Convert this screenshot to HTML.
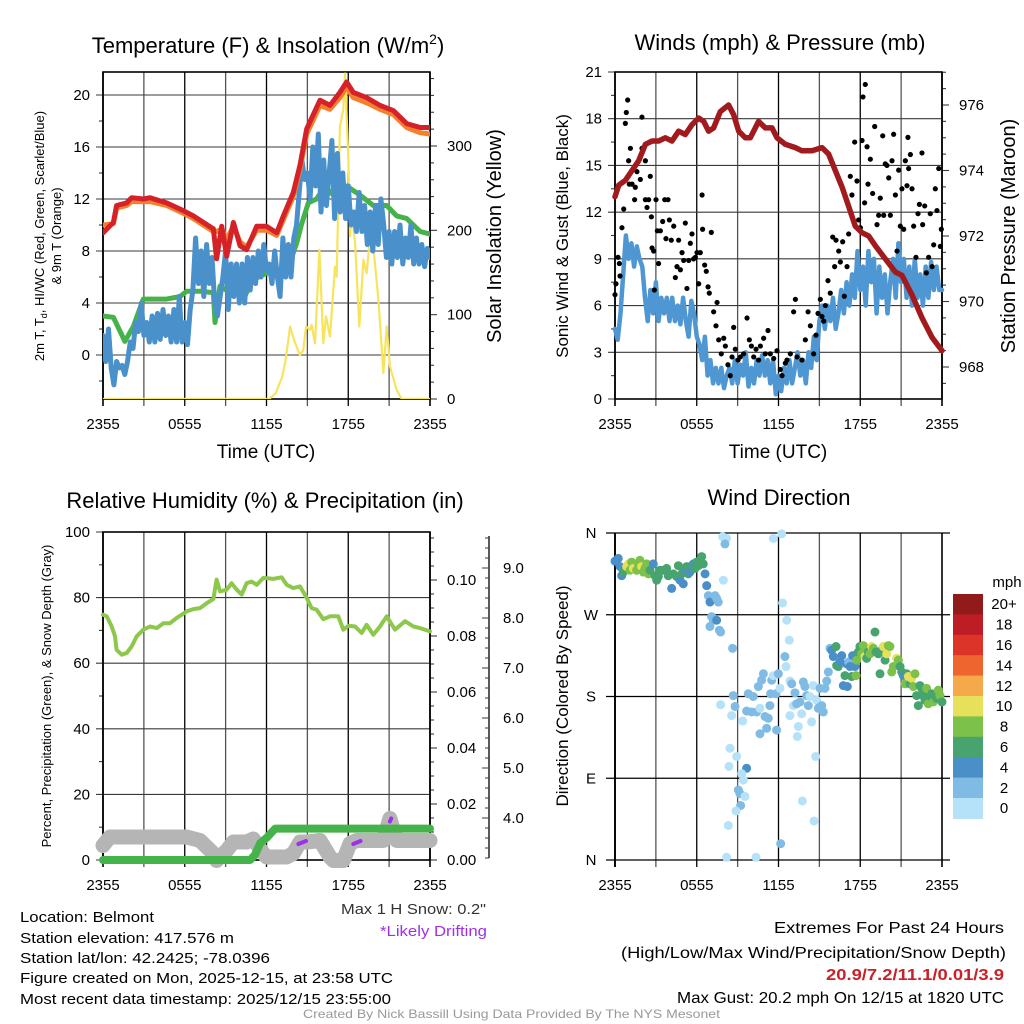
<!DOCTYPE html>
<html><head><meta charset="utf-8">
<style>
html,body{margin:0;padding:0;background:#fff;}
svg{display:block;font-family:"Liberation Sans",Arial,sans-serif;}
</style></head>
<body>
<svg id="chart" xmlns="http://www.w3.org/2000/svg" width="1024" height="1024" viewBox="0 0 1024 1024">
<rect width="1024" height="1024" fill="#fff"/>
<g id="layer"></g>
<!-- titles -->
<text x="268" y="53" font-size="22" text-anchor="middle">Temperature (F) &amp; Insolation (W/m<tspan font-size="14" dy="-9">2</tspan><tspan dy="9">)</tspan></text>
<text x="780" y="50" font-size="22" text-anchor="middle">Winds (mph) &amp; Pressure (mb)</text>
<text x="265" y="508" font-size="22" text-anchor="middle">Relative Humidity (%) &amp; Precipitation (in)</text>
<text x="779" y="505" font-size="22" text-anchor="middle">Wind Direction</text>
<!-- axis titles -->
<text x="266" y="458" font-size="19" text-anchor="middle">Time (UTC)</text>
<text x="778" y="458" font-size="19" text-anchor="middle">Time (UTC)</text>
<text transform="translate(44,236) rotate(-90)" font-size="13" text-anchor="middle">2m T, T<tspan font-size="9" dy="3">d</tspan><tspan dy="-3">, HI/WC (Red, Green, Scarlet/Blue)</tspan></text>
<text transform="translate(61,236) rotate(-90)" font-size="13" text-anchor="middle">&amp; 9m T (Orange)</text>
<text transform="translate(501,236) rotate(-90)" font-size="20" text-anchor="middle">Solar Insolation (Yellow)</text>
<text transform="translate(568,236) rotate(-90)" font-size="17" text-anchor="middle">Sonic Wind &amp; Gust (Blue, Black)</text>
<text transform="translate(1015,236) rotate(-90)" font-size="20" text-anchor="middle">Station Pressure (Maroon)</text>
<text transform="translate(51,696) rotate(-90)" font-size="13" text-anchor="middle">Percent, Precipitation (Green), &amp; Snow Depth (Gray)</text>
<text transform="translate(568,696) rotate(-90)" font-size="17" text-anchor="middle">Direction (Colored By Speed)</text>
<!-- footer texts -->
<g font-size="15">
<text x="20" y="922" textLength="134" lengthAdjust="spacingAndGlyphs">Location: Belmont</text>
<text x="20" y="943" textLength="214" lengthAdjust="spacingAndGlyphs">Station elevation: 417.576 m</text>
<text x="20" y="963" textLength="250" lengthAdjust="spacingAndGlyphs">Station lat/lon: 42.2425; -78.0396</text>
<text x="20" y="983" textLength="373" lengthAdjust="spacingAndGlyphs">Figure created on Mon, 2025-12-15, at 23:58 UTC</text>
<text x="20" y="1004" textLength="371" lengthAdjust="spacingAndGlyphs">Most recent data timestamp: 2025/12/15 23:55:00</text>
</g>
<text x="341" y="914" font-size="15" fill="#333" textLength="145" lengthAdjust="spacingAndGlyphs">Max 1 H Snow: 0.2"</text>
<text x="380" y="936" font-size="15" fill="#a030e8" textLength="107" lengthAdjust="spacingAndGlyphs">*Likely Drifting</text>
<g font-size="16">
<text x="774" y="933" textLength="230" lengthAdjust="spacingAndGlyphs">Extremes For Past 24 Hours</text>
<text x="621" y="958" textLength="385" lengthAdjust="spacingAndGlyphs">(High/Low/Max Wind/Precipitation/Snow Depth)</text>
<text x="826" y="980" fill="#cc2028" font-weight="bold" textLength="178" lengthAdjust="spacingAndGlyphs">20.9/7.2/11.1/0.01/3.9</text>
<text x="677" y="1003" textLength="327" lengthAdjust="spacingAndGlyphs">Max Gust: 20.2 mph On 12/15 at 1820 UTC</text>
</g>
<text x="303" y="1018" font-size="12" fill="#999" textLength="417" lengthAdjust="spacingAndGlyphs">Created By Nick Bassill Using Data Provided By The NYS Mesonet</text>
</svg>
<script>
// ---------- DATA ----------
const xTickLabels = ["2355","0555","1155","1755","2355"];
// Panel 1: temperature
const tempHours = [0,0.76,1.0,1.74,2.1,2.96,3.45,4.67,5.9,6.63,7.36,8.1,8.34,8.71,9.08,9.57,10.06,10.54,11.28,12.01,12.75,13.24,13.97,14.46,14.95,15.93,16.66,17.39,17.88,18.37,19.35,20.33,21.31,22.29,23.27,24];
const tempRed = [9.4,10.2,11.5,11.7,12.1,12.0,12.1,11.7,11.1,10.7,10.2,9.7,7.4,9.9,7.6,10.2,8.4,8.1,9.9,9.9,9.4,10.7,12.5,14.6,17.4,19.6,19.2,20.2,21.0,20.2,19.8,19.2,18.8,17.8,17.5,17.5];
const temp9m = [10.0,10.1,11.3,11.5,11.8,11.8,11.8,11.5,10.9,10.5,10.0,9.5,9.5,9.7,8.9,9.9,8.7,8.3,9.6,9.6,9.2,10.4,12.2,14.3,17.0,19.2,18.9,19.8,20.6,19.8,19.4,18.9,18.5,17.5,17.1,17.0];
const dewHours = [0,0.76,1.61,2.23,2.96,3.94,4.67,5.65,6.14,7.12,8.1,8.22,8.59,9.32,9.57,10.3,11.03,12.01,13.0,13.72,14.21,14.58,15.07,15.68,16.29,16.9,17.88,18.86,19.84,20.82,21.55,22.29,23.27,24];
const dewGreen = [3.0,2.9,1.05,2.2,4.3,4.3,4.3,4.5,4.9,4.9,4.8,2.5,5.3,4.8,5.3,4.3,5.8,6.3,6.2,7.1,8.6,10.1,11.7,12.0,13.0,12.3,13.0,12.3,11.5,11.5,10.7,10.5,9.5,9.3];
const windChill = [1.5,-0.5,2.0,-1.0,-2.3,-0.5,-1.0,-0.8,-1.5,-0.5,1.0,0.5,2.5,1.8,4.0,1.5,2.5,1.0,3.0,1.0,3.2,1.2,3.5,1.5,3.0,1.0,3.5,1.0,4.5,1.0,2.5,0.8,3.5,5.0,9.0,5.5,8.0,4.5,8.5,5.5,7.5,4.0,3.0,4.5,6.0,8.0,3.5,7.0,4.5,7.0,4.0,7.0,4.0,7.5,5.0,7.5,5.5,8.0,6.0,8.5,6.5,7.0,5.5,8.0,6.0,4.5,9.0,6.0,8.5,6.0,9.0,10.0,12.5,15.0,13.5,14.0,12.0,16.0,13.0,17.0,11.0,15.0,11.5,14.0,16.5,10.5,15.5,11.0,14.0,10.5,13.0,10.0,11.0,9.5,12.5,9.5,11.5,8.5,11.0,8.0,11.5,8.5,12.0,10.0,7.5,9.5,7.0,9.5,7.5,10.0,7.0,9.0,7.5,10.0,7.0,9.0,7.0,8.5,6.8,8.2,7.5];
const solarHours = [0,12.2,12.68,13.17,13.41,13.73,14.02,14.46,14.7,14.9,15.19,15.31,15.56,15.88,16.17,16.37,16.66,17.03,17.15,17.39,17.64,17.76,18.01,18.13,18.25,18.5,18.81,19.11,19.35,19.6,19.84,20.21,20.58,20.82,21.06,21.55,21.92,24];
const solarVals = [0,0,7,27,47,86,70,52,58,86,82,88,66,177,66,98,74,157,145,323,343,386,283,193,220,185,86,165,149,193,181,118,31,86,39,11,0,0];
// Panel 2: winds
const sonicWind = [4.5,3.8,5.5,8.0,10.5,9.0,10.0,8.5,9.8,9.0,8.5,6.5,5.0,7.0,5.5,7.5,5.0,6.5,5.5,6.5,5.0,6.5,5.0,6.0,4.8,6.5,5.0,4.0,6.3,5.5,4.0,3.5,2.5,4.0,1.5,2.5,1.0,2.0,1.0,2.0,0.7,1.5,2.0,1.0,2.5,1.0,2.2,1.5,3.0,0.8,2.0,1.0,2.5,1.5,2.8,1.5,2.5,1.0,2.5,0.3,1.5,0.5,2.0,1.0,2.5,1.0,2.0,3.0,1.5,2.5,1.0,3.0,2.0,4.0,2.5,5.0,6.0,4.5,6.0,5.0,6.5,4.5,5.5,7.0,5.5,7.5,6.0,8.0,6.5,9.5,7.0,8.5,6.0,9.5,7.5,9.0,5.5,8.5,6.5,8.0,5.5,7.5,9.0,6.5,10.0,7.5,9.0,6.5,8.5,6.0,9.0,6.5,8.0,6.0,8.5,6.5,8.8,7.0,8.5,7.0,7.0];
const gustHours = [0,0.07,0.22,0.32,0.37,0.51,0.64,0.76,0.83,0.93,1.0,1.13,1.05,1.25,1.44,1.49,1.61,1.86,1.98,1.98,2.23,2.23,2.35,2.47,2.59,2.67,2.72,2.84,2.89,3.01,3.11,3.2,3.33,3.5,3.65,3.74,3.89,3.99,4.13,4.31,4.43,4.55,4.67,4.8,4.92,5.04,5.16,5.28,5.41,5.53,5.65,5.77,5.9,6.02,6.14,6.26,6.39,6.43,6.58,6.7,6.83,6.92,7.07,7.24,7.41,7.49,7.61,7.8,7.98,8.1,8.29,8.46,8.59,8.71,8.83,9.03,9.2,9.44,9.69,9.86,10.01,10.18,10.35,10.54,10.67,10.91,11.03,11.23,11.4,11.65,11.89,12.13,12.26,12.5,12.62,12.87,13.11,13.24,13.36,13.72,13.97,14.17,14.34,14.58,14.75,14.9,15.07,15.19,15.32,15.44,15.63,15.8,15.98,16.12,16.22,16.42,16.54,16.71,16.83,17.03,17.15,17.27,17.39,17.59,17.76,17.88,18.01,18.13,18.2,18.37,18.32,18.5,18.57,18.74,18.91,19.06,19.23,19.35,19.47,19.65,19.72,19.84,19.96,20.09,20.21,20.33,20.45,20.58,20.7,20.82,20.94,21.06,21.19,21.31,21.43,21.5,21.55,21.68,21.8,21.92,22.09,22.24,22.34,22.53,22.58,22.73,22.85,23.02,23.14,23.27,23.39,23.51,23.63,23.76,23.88,23.95];
const gustMph = [6.7,7.4,9.1,8.7,7.9,11,12.2,17.7,18.4,19.2,15.3,16.1,13.8,13.8,12.8,13.6,14.6,14.1,18.1,16.1,15.3,12.8,12.3,12.8,14.3,11.7,9.7,9.5,7,12.8,10.8,8.7,10.8,11.4,12.8,10.3,12.8,11.5,10.2,11.1,7.8,8.5,10.2,8.3,9.4,8.9,11.3,7.1,8.9,10,10.6,9,9.1,9.4,7.4,9.4,13.1,10.9,8.6,8.2,7.2,6.8,10.7,5.6,4.7,6.2,3.8,2.9,3.9,3.4,2.2,1.5,2.7,4.6,3.2,2.5,2.7,2.9,5.2,3.8,3.4,2.7,3.2,2.5,3.4,3.9,2.9,4.4,2.9,2.6,3.1,1.9,1.5,2.3,2.5,2.9,5.6,6.4,2.7,2.5,3.8,5.6,4.7,2.9,4.1,5.5,6.4,5.3,5,6,7.6,6.8,10.4,8.5,10.2,9.5,8.8,10.1,6.6,8.5,10.6,14.3,13.1,16.5,14,11.5,11,16.6,19.4,20.2,12.6,16.2,13.8,15.4,13.2,17.5,11.2,11.8,12.9,16.9,11.8,15.1,15,14.2,11.8,15.3,17,13.1,9.5,14.7,11.1,13.5,10.9,15.3,13.7,16.8,14.8,15.7,13.5,11.1,9.1,11.9,12.5,15.8,11.2,12.4,8.1,9.1,11.9,8.5,9.9,13.5,12.1,14.8,9.8,10.9];
const presHours = [0,0.27,0.76,1.25,1.74,2.23,2.72,3.2,3.69,4.18,4.67,5.16,5.65,6.14,6.51,6.87,7.24,7.73,8.34,8.71,9.08,9.57,9.93,10.3,10.54,11.03,11.52,11.89,12.5,13.24,13.72,14.46,15.19,15.68,16.17,16.66,17.15,17.64,18.13,18.62,19.11,19.84,20.58,21.06,21.8,22.53,23.27,24];
const presMb = [973.2,973.55,973.7,974.0,974.3,974.8,974.9,974.9,975.0,974.9,975.2,975.1,975.4,975.6,975.5,975.2,975.3,975.8,976.0,975.7,975.2,975.0,975.0,975.3,975.5,975.3,975.3,975.0,974.8,974.7,974.6,974.6,974.7,974.5,974.0,973.5,972.9,972.3,972.1,972.0,971.7,971.3,970.9,970.8,970.2,969.5,968.9,968.5];
// Panel 3: humidity / precip / snow
const rhHours = [0,0.27,0.64,0.88,1.0,1.37,1.74,2.1,2.47,2.96,3.45,3.94,4.43,4.92,5.41,6.14,6.63,7.12,7.61,8.1,8.34,8.59,9.08,9.44,9.81,10.18,10.54,10.91,11.28,11.77,12.5,13.11,13.48,13.97,14.46,14.95,15.31,15.68,16.17,16.66,17.27,17.64,18.01,18.5,18.99,19.35,19.84,20.33,20.82,21.43,22.17,22.78,23.27,24];
const rhVals = [74.8,74.3,71.2,68.2,64.1,62.6,63.1,65.1,68.2,70.2,71.2,70.7,72.2,72.2,73.8,75.8,76.5,76.8,78.3,79.6,85.5,81.9,82.4,84.4,82.4,80.9,84.4,84.9,83.9,86.0,85.7,86.2,83.9,82.9,83.4,79.9,76.8,76.3,73.4,74.3,74.3,70.2,71.4,71.2,69.2,71.7,68.7,71.2,74.3,70.2,72.8,71.2,70.7,69.7];
const precipHours = [0,10.8,11.17,11.54,12.03,12.64,24];
const precipVals = [0,0,0.002,0.006,0.008,0.0112,0.0112];
const snowHours = [0,0.51,6.14,7.12,8.1,8.34,9.08,9.57,10.54,11.03,11.77,12.01,13.48,13.97,14.46,14.95,15.93,16.66,16.9,17.64,18.13,18.62,20.58,21.06,21.55,24];
const snowDepth = [3.45,3.62,3.62,3.55,3.29,3.15,3.35,3.52,3.52,3.58,3.29,3.22,3.22,3.29,3.52,3.52,3.55,3.22,3.15,3.15,3.49,3.55,3.55,3.99,3.55,3.55];
const driftStart = [14.34,18.37,21.06];
const driftEnd = [14.9,18.9,21.15];
const driftDepth = [3.5,3.5,3.95];
// Panel 4: wind direction
const dirHours = [0,0.24,0.37,0.49,0.61,0.86,0.98,1.1,1.22,1.35,1.59,1.71,1.83,1.96,2.08,2.2,2.32,2.45,2.57,2.81,2.94,3.06,3.18,3.3,3.55,3.79,3.91,4.16,4.28,4.53,4.65,4.77,4.89,5.01,5.14,5.26,5.38,5.5,5.63,5.75,5.87,5.99,6.12,6.24,6.36,6.48,6.61,6.73,6.85,6.97,7.09,7.22,7.34,7.46,7.58,7.46,6.97,7.66,7.75,7.95,7.9,8.19,8.07,8.63,8.68,8.81,8.56,7.75,8.44,8.93,8.37,9.66,9.3,9.42,9.05,9.17,9.54,9.22,8.88,8.32,8.19,10.35,9.37,9.66,9.78,10.03,10.15,10.4,10.52,10.64,10.76,10.89,10.64,11.13,11.01,11.25,11.37,11.5,11.42,11.62,11.81,11.86,11.99,12.11,12.16,11.62,12.23,12.3,12.6,12.79,12.47,12.55,12.84,12.97,13.09,12.84,13.21,13.33,13.46,13.38,13.58,13.7,13.82,13.94,14.07,14.19,14.31,14.43,14.56,14.73,13.75,14.61,14.8,14.92,15.05,15.17,15.29,15.41,15.54,15.66,15.78,15.9,16.02,16.22,16.27,16.39,16.51,16.64,16.76,16.88,17.0,17.05,17.15,17.25,17.37,17.44,17.54,17.61,17.69,17.74,17.86,17.98,18.1,18.23,18.35,18.47,18.59,18.72,18.84,18.96,19.08,19.16,19.33,19.45,19.57,19.69,19.82,19.94,20.06,20.18,20.31,20.43,20.67,20.8,20.92,21.04,21.16,21.28,21.41,21.65,21.53,21.77,21.9,22.02,22.14,22.26,22.38,22.51,22.63,22.75,22.87,22.99,23.12,23.24,23.36,23.48,23.61,23.73,23.85,24.0];
const dirDeg = [329,332,323,313,317,323,326,319,328,321,319,326,330,323,317,321,326,315,319,326,313,308,312,319,319,321,313,299,315,312,324,308,315,304,319,323,315,317,324,326,321,328,324,330,334,326,315,302,291,284,268,264,291,288,284,264,257,253,251,308,356,354,348,233,181,169,159,171,123,114,103,101,95,88,77,73,70,60,54,38,3,3,153,164,183,163,180,163,191,167,198,205,139,145,158,156,170,198,183,203,183,143,205,189,18,354,359,283,264,242,224,213,197,194,170,159,184,172,147,136,174,161,196,191,181,170,180,152,192,114,65,43,176,167,189,170,163,189,197,207,233,231,224,235,214,213,218,225,192,203,216,191,218,213,202,225,225,213,203,220,229,235,227,236,224,222,229,227,235,233,251,229,227,205,231,235,220,227,236,235,207,213,222,220,213,207,203,194,205,194,202,200,191,205,181,170,192,189,181,176,189,172,180,183,174,181,178,187,181,174];
const dirSpeed = [4,4,4,5,7,10,10,9,8,10,8,9,8,10,8,8,8,8,7,4,6,6,7,6,6,6,6,4,6,6,6,4,6,4,4,6,6,5,6,4,6,6,6,6,7,6,4,4,3,4,3,3,2,3,3,4,3,3,2,1,1,1,3,2,3,2,1,1,1,1,1,4,1,1,3,3,1,3,1,1,0,1,1,3,3,3,3,2,3,1,3,3,3,3,3,3,3,3,3,1,3,2,2,1,2,1,1,1,1,1,3,1,1,3,1,1,3,2,1,1,3,1,3,2,3,3,1,1,1,1,1,1,1,3,2,3,3,3,3,3,3,4,4,6,6,6,4,4,4,6,4,4,3,4,6,5,4,4,8,8,6,6,8,8,10,6,6,8,10,8,6,6,6,6,6,10,6,10,8,8,8,8,10,8,6,6,4,8,6,6,10,10,8,8,6,6,6,6,6,6,8,8,6,6,8,6,6,8,8,6,6,6];
const speedBinLabels = ["0","2","4","6","8","10","12","14","16","18","20+"];

// ---------- DRAWING ----------
const NS = "http://www.w3.org/2000/svg";
const layer = document.getElementById('layer');
function mk(tag, attrs, parent){
  const e = document.createElementNS(NS, tag);
  for (const k in attrs) e.setAttribute(k, attrs[k]);
  (parent||layer).appendChild(e);
  return e;
}
const GRID = "#3a3a3a";
function xScale(p){ return h => p.x0 + h*(p.x1-p.x0)/24; }
function linScale(v0,y0,v1,y1){ return v => y0 + (v-v0)*(y1-y0)/(v1-v0); }

function frame(p, name){
  const g = mk('g', {});
  
  
  const xs = xScale(p);
  for (let h=0; h<=24; h+=3){
    const x = xs(h);
    const l = mk('line', {x1:x, x2:x, y1:p.y0, y2:p.y1+7, stroke:(h%6==0?"#000":"#555"), 'stroke-width':(h==0||h==24)?1.6:1.3}, g);
    
    
  }
  for (let i=0;i<xTickLabels.length;i++){
    const t = mk('text', {x:xs(i*6), y:p.y1+30, 'font-size':15, 'text-anchor':'middle'}, g);
    t.textContent = xTickLabels[i];
    
    
  }
  return g;
}
function leftAxis(p, g, name, sc, vmin, vmax, major, minor, labels, gridOn){
  for (let v=vmin; v<=vmax+1e-9; v+=minor){
    const y = sc(v);
    if (y < p.y0-0.5 || y > p.y1+0.5) continue;
    const isMajor = Math.abs(v/major - Math.round(v/major))<1e-6;
    const l = mk('line', {x1:p.x0-(isMajor?7:4), x2: (isMajor&&gridOn)?p.x1:p.x0, y1:y, y2:y, stroke:GRID, 'stroke-width':1.1}, g);
    
    
  }
  labels.forEach(([v,txt])=>{
    const t = mk('text', {x:p.x0-13, y:sc(v)+5, 'font-size':15, 'text-anchor':'end'}, g);
    t.textContent = txt;
    
    
  });
}
function rightAxis(p, g, name, sc, vmin, vmax, major, minor, labels, ax, lx){
  ax = ax||p.x1;
  for (let v=vmin; v<=vmax+1e-9; v+=minor){
    const y = sc(v);
    if (y < p.y0-0.5 || y > p.y1+0.5) continue;
    const isMajor = Math.abs(v/major - Math.round(v/major))<1e-6;
    const l = mk('line', {x1:ax, x2:ax+(isMajor?7:4), y1:y, y2:y, stroke:GRID, 'stroke-width':1.1}, g);
    
    
  }
  labels.forEach(([v,txt])=>{
    const t = mk('text', {x:(lx||ax+17), y:sc(v)+5, 'font-size':15, 'text-anchor':'start'}, g);
    t.textContent = txt;
    
    
  });
}
function border(p, g, name){
  const r = mk('rect', {x:p.x0, y:p.y0, width:p.x1-p.x0, height:p.y1-p.y0, fill:'none', stroke:'#000', 'stroke-width':1.6}, g);
  
  
}
function path(xs, ys, hours, vals, color, w, name, parent){
  let d = "";
  for (let i=0;i<vals.length;i++) d += (i?"L":"M") + xs(hours[i]).toFixed(1) + "," + ys(vals[i]).toFixed(1);
  const e = mk('path', {d:d, fill:'none', stroke:color, 'stroke-width':w, 'stroke-linejoin':'round', 'stroke-linecap':'round'}, parent);
  
  
  return e;
}
function evenHours(n){ const a=[]; for(let i=0;i<n;i++) a.push(i*24/(n-1)); return a; }

// Panel 1
const P1 = {x0:103,x1:430,y0:72,y1:399};
{
  const g = frame(P1,'temp');
  const xs = xScale(P1);
  const ty = linScale(0,355,20,95);
  const sy = linScale(0,399,300,146);
  leftAxis(P1, g, 'temp', ty, -2, 22, 4, 2, [[0,"0"],[4,"4"],[8,"8"],[12,"12"],[16,"16"],[20,"20"]], true);
  rightAxis(P1, g, 'solar', sy, 0, 380, 100, 20, [[0,"0"],[100,"100"],[200,"200"],[300,"300"]]);
  const clip = mk('clipPath', {id:'c1'}); mk('rect',{x:P1.x0,y:P1.y0-3,width:P1.x1-P1.x0,height:P1.y1-P1.y0+3},clip);
  const s = mk('g', {'clip-path':'url(#c1)'});
  
  
  path(xs, sy, solarHours, solarVals, '#f8e45c', 2.2, 'solar-line', s);
  path(xs, ty, dewHours, dewGreen, '#46b34a', 5, 'dewpoint-line', s);
  path(xs, ty, evenHours(windChill.length), windChill, '#4a91cb', 5, 'windchill-line', s);
  path(xs, ty, tempHours, temp9m, '#f47f2c', 5, 'temp-9m-line', s);
  path(xs, ty, tempHours, tempRed, '#d52128', 5, 'temp-2m-line', s);
  border(P1, g, 'temp');
}
// Panel 2
const P2 = {x0:615,x1:942,y0:72,y1:399};
{
  const g = frame(P2,'wind');
  const xs = xScale(P2);
  const wy = linScale(0,399,21,72);
  const py = linScale(968,367,976,105);
  leftAxis(P2, g, 'wind', wy, 0, 21, 3, 1.5, [[0,"0"],[3,"3"],[6,"6"],[9,"9"],[12,"12"],[15,"15"],[18,"18"],[21,"21"]], true);
  rightAxis(P2, g, 'pressure', py, 967, 977, 2, 0.5, [[968,"968"],[970,"970"],[972,"972"],[974,"974"],[976,"976"]]);
  const s = mk('g', {});
  
  
  path(xs, wy, evenHours(sonicWind.length), sonicWind, '#4f97d2', 4.5, 'sonic-wind-line', s);
  for (let i=0;i<gustMph.length;i++){
    const c = mk('circle', {cx:xs(gustHours[i]), cy:wy(gustMph[i]), r:2.6, fill:'#000'}, s);
    
    
  }
  path(xs, py, presHours, presMb, '#a11b1e', 5.5, 'pressure-line', s);
  border(P2, g, 'wind');
}
// Panel 3
const P3 = {x0:103,x1:430,y0:532,y1:860};
{
  const g = frame(P3,'humidity');
  const xs = xScale(P3);
  const ry = linScale(0,860,100,532);
  const pry = linScale(0,860,0.10,580);
  const sny = linScale(4,818,9,568);
  leftAxis(P3, g, 'humidity', ry, 0, 100, 20, 10, [[0,"0"],[20,"20"],[40,"40"],[60,"60"],[80,"80"],[100,"100"]], true);
  rightAxis(P3, g, 'precip', pry, 0, 0.115, 0.02, 0.005, [[0,"0.00"],[0.02,"0.02"],[0.04,"0.04"],[0.06,"0.06"],[0.08,"0.08"],[0.10,"0.10"]]);
  const sa = mk('line', {x1:489, x2:489, y1:536, y2:858, stroke:'#000', 'stroke-width':1.3}, g);
  
  
  for (let v=3.2; v<=9.6+1e-9; v+=0.2){
    const y = sny(v); const maj = Math.abs(v-Math.round(v))<1e-6;
    const l = mk('line', {x1:489-(maj?7:4), x2:489, y1:y, y2:y, stroke:GRID, 'stroke-width':1}, g);
    
    
  }
  [4,5,6,7,8,9].forEach(v=>{
    const t = mk('text', {x:503, y:sny(v)+5, 'font-size':15}, g);
    t.textContent = v.toFixed(1);
    
    
  });
  const s = mk('g', {});
  
  
  path(xs, sny, snowHours, snowDepth, '#b5b5b5', 15, 'snow-depth-line', s);
  for (let i=0;i<driftStart.length;i++){
    const l = mk('line', {x1:xs(driftStart[i]), x2:xs(driftEnd[i]), y1:sny(driftDepth[i])+1, y2:sny(driftDepth[i])-2, stroke:'#a030e8', 'stroke-width':4, 'stroke-linecap':'round'}, s);
    
    
  }
  path(xs, pry, precipHours, precipVals, '#46b34a', 8, 'precip-line', s);
  path(xs, ry, rhHours, rhVals, '#8dc84c', 4, 'humidity-line', s);
  border(P3, g, 'humidity');
}
// Panel 4
const P4 = {x0:615,x1:942,y0:533,y1:860};
const binColors = ["#b5e2f8","#80bbe4","#4a8fc8","#48a46e","#7cc24a","#e6e05a","#f6a94a","#ee6530","#dc3428","#bf1d25","#911a1b"];
{
  const g = frame(P4,'direction');
  const xs = xScale(P4);
  const dy = linScale(0,860,360,533);
  ["N","E","S","W","N"].forEach((lab,i)=>{
    const y = dy(i*90);
    const l = mk('line', {x1:P4.x0-9, x2:P4.x1+8, y1:y, y2:y, stroke:'#000', 'stroke-width':1.2}, g);
    
    
    const t = mk('text', {x:591, y:y+5, 'font-size':15, 'text-anchor':'middle'}, g);
    t.textContent = lab;
    
    
  });
  const s = mk('g', {});
  
  
  for (let i=0;i<dirDeg.length;i++){
    const bin = Math.min(10, Math.floor(dirSpeed[i]/2));
    const c = mk('circle', {cx:xs(dirHours[i]), cy:dy(dirDeg[i]), r:4.5, fill:binColors[bin]}, s);
    
    
  }
  const lb = mk('line', {x1:P4.x0, x2:P4.x0, y1:P4.y0, y2:P4.y1+7, stroke:'#000', 'stroke-width':1.8}, g);
  
  
  // colorbar
  const cb = mk('g', {});
  
  
  const bh = 20.4, top = 594;
  for (let i=0;i<binColors.length;i++){
    const k = binColors.length-1-i;
    const r = mk('rect', {x:953, y:top+i*bh, width:30, height:bh+0.5, fill:binColors[k]}, cb);
    
    
    const t = mk('text', {x:1004, y:top+i*bh+bh/2+5, 'font-size':15, 'text-anchor':'middle'}, cb);
    t.textContent = speedBinLabels[k];
    
    
  }
  const u = mk('text', {x:1007, y:587, 'font-size':15, 'text-anchor':'middle'}, cb);
  u.textContent = "mph";
  
  
}
</script>
</body></html>
